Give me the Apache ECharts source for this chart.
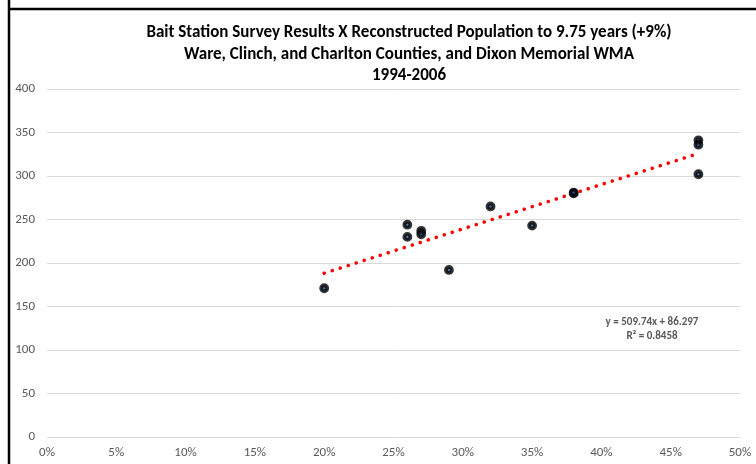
<!DOCTYPE html>
<html><head><meta charset="utf-8">
<script src="https://cdn.jsdelivr.net/npm/echarts@6/dist/echarts.min.js"></script>
<style>html,body{margin:0;padding:0;background:#fff}#c{width:756px;height:464px}</style>
</head><body><div id="c"></div>
<script>
const titleLines = ['Bait Station Survey Results X Reconstructed Population to 9.75 years (+9%)', 'Ware, Clinch, and Charlton Counties, and Dixon Memorial WMA', '1994-2006'];
const baitRate = [0.20, 0.26, 0.26, 0.27, 0.27, 0.29, 0.32, 0.35, 0.38, 0.38, 0.47, 0.47, 0.47];
const population = [171, 244, 230, 237, 233, 192, 265, 243, 280, 281, 341, 336, 302];
const slope = 509.74;
const intercept = 86.297;
const rSquared = 0.8458;
const xTicks = {min: 0, max: 0.5, interval: 0.05};
const yTicks = {min: 0, max: 400, interval: 50};

const pts = baitRate.map((x, i) => [x, population[i]]);
const xMin = Math.min(...baitRate), xMax = Math.max(...baitRate);
const trend = [[xMin, slope * xMin + intercept], [xMax, slope * xMax + intercept]];
const font = 'Calibri, Carlito, "Open Sans", sans-serif';

const chart = echarts.init(document.getElementById('c'), null, {renderer: 'canvas'});
chart.setOption({
  animation: false,
  backgroundColor: '#fff',
  title: {
    text: titleLines.join('\n'),
    left: 404, top: 17, textAlign: 'center',
    textStyle: {fontFamily: font, fontSize: 17, fontWeight: 'bold', color: '#000', lineHeight: 21.5}
  },
  grid: {left: 47, right: 16, top: 89, bottom: 27},
  xAxis: {
    type: 'value', min: xTicks.min, max: xTicks.max, interval: xTicks.interval,
    axisLine: {show: false}, axisTick: {show: false}, splitLine: {show: false},
    axisLabel: {formatter: v => Math.round(v * 100) + '%', color: '#595959', fontFamily: font, fontSize: 13, margin: 9}
  },
  yAxis: {
    type: 'value', min: yTicks.min, max: yTicks.max, interval: yTicks.interval,
    axisLine: {show: false}, axisTick: {show: false},
    splitLine: {lineStyle: {color: '#d9d9d9', width: 1}},
    axisLabel: {color: '#595959', fontFamily: font, fontSize: 13, margin: 12}
  },
  series: [
    {
      type: 'line', data: trend, symbol: 'none', silent: true, z: 1,
      lineStyle: {color: '#ff0000', width: 3.5, type: [0.1, 8.3], cap: 'round'}
    },
    {
      type: 'scatter', data: pts, symbol: 'circle', symbolSize: 6, z: 3,
      itemStyle: {color: '#2f5597', borderColor: '#000', borderWidth: 3.8}
    }
  ],
  graphic: [
    {type: 'text', x: 652, y: 315, style: {text: 'y = 509.74x + 86.297\nR² = ' + rSquared, fill: '#595959', font: 'bold 11px ' + font, textAlign: 'center', lineHeight: 14}},
    {type: 'line', shape: {x1: 9, y1: 0, x2: 9, y2: 464}, style: {stroke: '#000', lineWidth: 2.5}},
    {type: 'line', shape: {x1: 8, y1: 9, x2: 756, y2: 9}, style: {stroke: '#000', lineWidth: 2.5}}
  ]
});
</script></body></html>
